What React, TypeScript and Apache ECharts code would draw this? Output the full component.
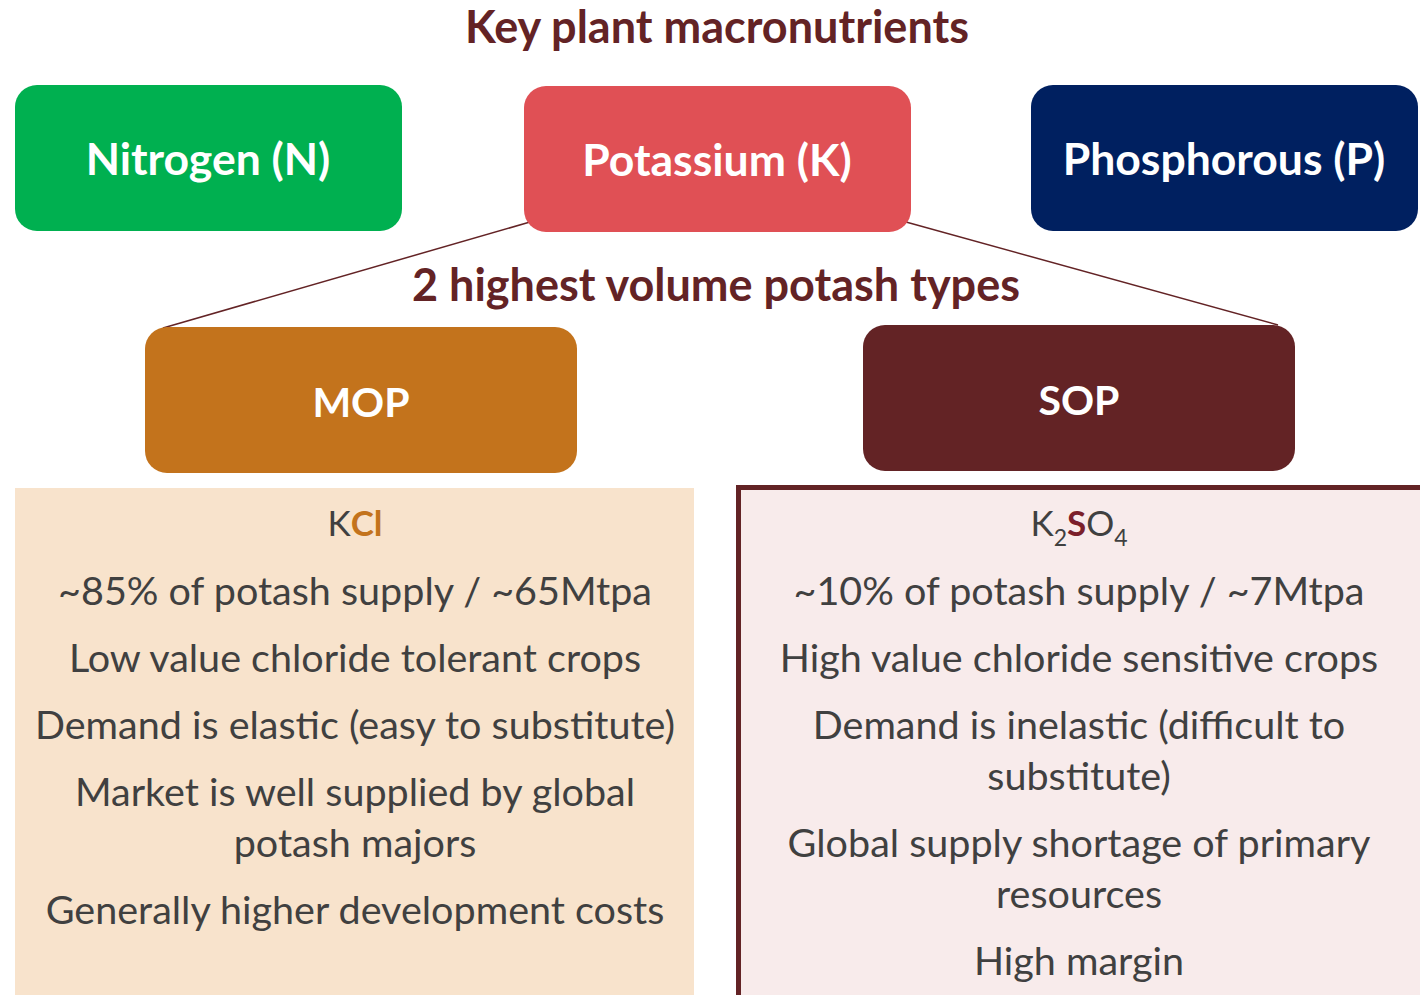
import React, { useEffect, useRef } from "react";
import * as echarts from "echarts";

const TITLE_TOP = "Key plant macronutrients";
const TITLE_MID = "2 highest volume potash types";
const NUTRIENTS = ["Nitrogen (N)", "Potassium (K)", "Phosphorous (P)"];
const NUTRIENT_COLORS = ["#00B050", "#E05055", "#002060"];
const POTASH_TYPES = ["MOP", "SOP"];
const POTASH_COLORS = ["#C3731C", "#632325"];
const MOP_LINES: string[][] = [
  ["~85% of potash supply / ~65Mtpa"],
  ["Low value chloride tolerant crops"],
  ["Demand is elastic (easy to substitute)"],
  ["Market is well supplied by global", "potash majors"],
  ["Generally higher development costs"],
];
const SOP_LINES: string[][] = [
  ["~10% of potash supply / ~7Mtpa"],
  ["High value chloride sensitive crops"],
  ["Demand is inelastic (difficult to", "substitute)"],
  ["Global supply shortage of primary", "resources"],
  ["High margin"],
];

const FONT = "Lato, 'Open Sans', sans-serif";
const DARK = "#632325";
const BODY = "#404040";

export default function App() {
  const ref = useRef<HTMLDivElement>(null);
  useEffect(() => {
    if (!ref.current) return;
    const chart = echarts.init(ref.current, undefined, { renderer: "svg" });
    const els: any[] = [];
    // connector lines
    els.push({ type: "line", shape: { x1: 530, y1: 222, x2: 163, y2: 328 }, style: { stroke: DARK, lineWidth: 1.5 }, z: 1 });
    els.push({ type: "line", shape: { x1: 906, y1: 222, x2: 1278, y2: 325 }, style: { stroke: DARK, lineWidth: 1.5 }, z: 1 });
    // titles
    els.push({ type: "text", x: 717, y: 26, z: 5, style: { text: TITLE_TOP, fontFamily: FONT, fontWeight: "bold", fontSize: 45, fill: DARK, align: "center", verticalAlign: "middle" } });
    els.push({ type: "text", x: 716, y: 284, z: 5, style: { text: TITLE_MID, fontFamily: FONT, fontWeight: "bold", fontSize: 45, fill: DARK, align: "center", verticalAlign: "middle" } });
    // nutrient boxes
    const nx = [15, 524, 1031];
    const ny = [85, 86, 85];
    NUTRIENTS.forEach((n, i) => {
      els.push({ type: "rect", z: 2, shape: { x: nx[i], y: ny[i], width: 387, height: 146, r: 22 }, style: { fill: NUTRIENT_COLORS[i] } });
      els.push({ type: "text", z: 6, x: nx[i] + 193, y: ny[i] + 72, style: { text: n, fontFamily: FONT, fontWeight: "bold", fontSize: 44.5, fill: "#ffffff", align: "center", verticalAlign: "middle" } });
    });
    // potash boxes
    const px = [145, 863];
    const py = [327, 325];
    POTASH_TYPES.forEach((n, i) => {
      els.push({ type: "rect", z: 2, shape: { x: px[i], y: py[i], width: 432, height: 146, r: 22 }, style: { fill: POTASH_COLORS[i] } });
      els.push({ type: "text", z: 6, x: px[i] + 216, y: py[i] + 74, style: { text: n, fontFamily: FONT, fontWeight: "bold", fontSize: 41, fill: "#ffffff", align: "center", verticalAlign: "middle" } });
    });
    // description boxes
    els.push({ type: "rect", z: 2, shape: { x: 15, y: 488, width: 679, height: 507 }, style: { fill: "#F8E3CC" } });
    els.push({ type: "rect", z: 2, shape: { x: 738.5, y: 487.5, width: 690, height: 520 }, style: { fill: "#F8EBEB", stroke: DARK, lineWidth: 5 } });

    els.push({ type: "text", z: 6, x: 355, y: 522, style: { text: "{n|K}{b|Cl}", align: "center", verticalAlign: "middle", rich: { n: { fontFamily: FONT, fontSize: 35, fill: BODY }, b: { fontFamily: FONT, fontSize: 35, fontWeight: "bold", fill: "#C3731C" } } } });
    els.push({ type: "text", z: 6, x: 1079, y: 522, style: { text: "{n|K}{s|2}{b|S}{n|O}{s|4}", align: "center", verticalAlign: "middle", rich: { n: { fontFamily: FONT, fontSize: 35, fill: BODY }, s: { fontFamily: FONT, fontSize: 23, fill: BODY, padding: [30, 0, 0, 0] }, b: { fontFamily: FONT, fontSize: 35, fontWeight: "bold", fill: "#7B1F2B" } } } });

    const addLines = (paras: string[][], cx: number) => {
      let y = 589;
      paras.forEach((p) => {
        p.forEach((line, j) => {
          if (j > 0) y += 51;
          els.push({ type: "text", z: 6, x: cx, y, style: { text: line, fontFamily: FONT, fontSize: 39.5, fill: BODY, align: "center", verticalAlign: "middle" } });
        });
        y += 67;
      });
    };
    addLines(MOP_LINES, 355);
    addLines(SOP_LINES, 1079);

    chart.setOption({ animation: false, graphic: { elements: els } });
    return () => chart.dispose();
  }, []);
  return <div ref={ref} style={{ position: "absolute", left: 0, top: 0, width: 1420, height: 995, background: "#ffffff" }} />;
}
